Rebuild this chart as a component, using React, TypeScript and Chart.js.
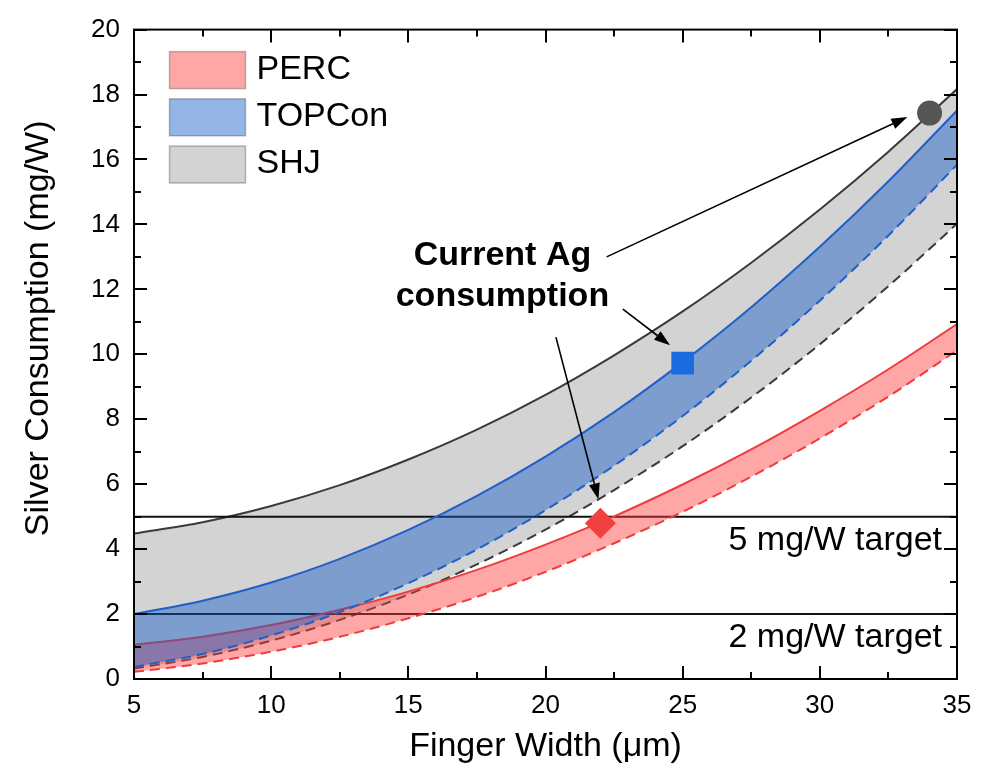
import React, { useEffect, useRef } from 'react';
import { Chart, registerables } from 'chart.js';

Chart.register(...registerables);

const FONT = '"Liberation Sans", Arial, Helvetica, sans-serif';

// Finger width (µm) sample positions
const fingerWidths = [5, 7.5, 10, 12.5, 15, 17.5, 20, 22.5, 25, 27.5, 30, 32.5, 35];

// Silver consumption (mg/W)
const shjUpper = [4.48, 4.83, 5.33, 5.97, 6.76, 7.68, 8.75, 9.97, 11.32, 12.82, 14.46, 16.24, 18.17];
const shjLower = [0.32, 0.68, 1.18, 1.82, 2.6, 3.53, 4.6, 5.82, 7.17, 8.67, 10.31, 12.1, 14.02];
const topconUpper = [2.0, 2.41, 2.97, 3.7, 4.59, 5.64, 6.85, 8.22, 9.76, 11.45, 13.31, 15.33, 17.51];
const topconLower = [0.37, 0.77, 1.34, 2.06, 2.95, 3.99, 5.2, 6.57, 8.1, 9.8, 11.65, 13.66, 15.84];
const percUpper = [1.05, 1.3, 1.66, 2.13, 2.69, 3.36, 4.14, 5.01, 5.99, 7.07, 8.26, 9.54, 10.93];
const percLower = [0.22, 0.48, 0.84, 1.3, 1.87, 2.53, 3.3, 4.18, 5.15, 6.23, 7.41, 8.7, 10.12];

// Current Ag consumption markers: PERC, TOPCon, SHJ
const markerWidths = [22, 25, 34];
const markerValues = [4.8, 9.73, 17.43];

// Target lines
const targetValues = [5, 2];
const targetLabels = ['5 mg/W target', '2 mg/W target'];

// Legend
const legendLabels = ['PERC', 'TOPCon', 'SHJ'];

// Annotation arrows (data coordinates): to SHJ, TOPCon, PERC markers
const arrowStartX = [22.23, 22.82, 20.38];
const arrowStartY = [13.0, 11.39, 10.53];
const arrowEndX = [33.19, 24.54, 21.93];
const arrowEndY = [17.31, 10.28, 5.53];
const annotationLines = ['Current Ag', 'consumption'];
const annotationX = 18.43;
const annotationY = [13.04, 11.77];

const COLORS = {
  shjLine: '#3a3a3a',
  shjFill: '#d3d3d3',
  percLine: '#f03c3c',
  percFill: 'rgba(255,60,60,0.45)',
  topLine: '#1f5fc8',
  topFill: 'rgba(20,90,200,0.45)',
};

const pts = (xs: number[], ys: number[]) => xs.map((x, i) => ({ x, y: ys[i] }));

export default function App() {
  const ref = useRef<HTMLCanvasElement>(null);

  useEffect(() => {
    const canvas = ref.current;
    if (!canvas) return;

    const overlay = {
      id: 'overlay',
      afterDraw(chart: any) {
        const { ctx, chartArea: a, scales } = chart;
        const xs = scales.x;
        const ys = scales.y;
        ctx.save();

        // frame
        ctx.strokeStyle = '#000';
        ctx.lineWidth = 2;
        ctx.strokeRect(a.left, a.top, a.right - a.left, a.bottom - a.top);

        // inward ticks on all sides
        ctx.beginPath();
        for (let v = 5; v <= 35.001; v += 2.5) {
          const px = Math.round(xs.getPixelForValue(v));
          const len = Math.abs(v % 5) < 1e-6 ? 13 : 7;
          ctx.moveTo(px, a.bottom);
          ctx.lineTo(px, a.bottom - len);
          ctx.moveTo(px, a.top);
          ctx.lineTo(px, a.top + len);
        }
        for (let v = 0; v <= 20.001; v += 1) {
          const py = Math.round(ys.getPixelForValue(v));
          const len = v % 2 === 0 ? 13 : 7;
          ctx.moveTo(a.left, py);
          ctx.lineTo(a.left + len, py);
          ctx.moveTo(a.right, py);
          ctx.lineTo(a.right - len, py);
        }
        ctx.stroke();

        // legend
        const legendFills = [COLORS.percFill, COLORS.topFill, COLORS.shjFill];
        legendLabels.forEach((lab, i) => {
          const bx = a.left + 35.5;
          const by = a.top + 22 + i * 47.2;
          ctx.fillStyle = '#fff';
          ctx.fillRect(bx, by, 76, 37);
          ctx.fillStyle = legendFills[i];
          ctx.fillRect(bx, by, 76, 37);
          ctx.strokeStyle = 'rgba(0,0,0,0.25)';
          ctx.lineWidth = 1.5;
          ctx.strokeRect(bx, by, 76, 37);
          ctx.fillStyle = '#000';
          ctx.font = `34px ${FONT}`;
          ctx.textAlign = 'left';
          ctx.textBaseline = 'middle';
          ctx.fillText(lab, bx + 87, by + 18);
        });

        // target labels
        ctx.font = `34px ${FONT}`;
        ctx.fillStyle = '#000';
        ctx.textAlign = 'right';
        ctx.textBaseline = 'middle';
        targetValues.forEach((t, i) => {
          ctx.fillText(targetLabels[i], a.right - 15, ys.getPixelForValue(t) + 23.5);
        });

        // annotation text
        ctx.font = `bold 34px ${FONT}`;
        ctx.textAlign = 'center';
        annotationLines.forEach((line, i) => {
          ctx.fillText(line, xs.getPixelForValue(annotationX), ys.getPixelForValue(annotationY[i]));
        });

        // arrows
        ctx.strokeStyle = '#000';
        ctx.fillStyle = '#000';
        ctx.lineWidth = 1.6;
        arrowStartX.forEach((sx, i) => {
          const x0 = xs.getPixelForValue(sx);
          const y0 = ys.getPixelForValue(arrowStartY[i]);
          const x1 = xs.getPixelForValue(arrowEndX[i]);
          const y1 = ys.getPixelForValue(arrowEndY[i]);
          const ang = Math.atan2(y1 - y0, x1 - x0);
          const hl = 16;
          const hw = 5.5;
          const bxp = x1 - hl * Math.cos(ang);
          const byp = y1 - hl * Math.sin(ang);
          ctx.beginPath();
          ctx.moveTo(x0, y0);
          ctx.lineTo(bxp, byp);
          ctx.stroke();
          ctx.beginPath();
          ctx.moveTo(x1, y1);
          ctx.lineTo(bxp + hw * Math.sin(ang), byp - hw * Math.cos(ang));
          ctx.lineTo(bxp - hw * Math.sin(ang), byp + hw * Math.cos(ang));
          ctx.closePath();
          ctx.fill();
        });

        // y axis title
        ctx.save();
        ctx.translate(38.5, (a.top + a.bottom) / 2 - 26);
        ctx.rotate(-Math.PI / 2);
        ctx.font = `34px ${FONT}`;
        ctx.textAlign = 'center';
        ctx.textBaseline = 'middle';
        ctx.fillStyle = '#000';
        ctx.fillText('Silver Consumption (mg/W)', 0, 0);
        ctx.restore();

        ctx.restore();
      },
    };

    const lineBase = {
      pointRadius: 0,
      borderWidth: 2,
      cubicInterpolationMode: 'monotone' as const,
    };

    const chart = new Chart(canvas, {
      type: 'line',
      data: {
        datasets: [
          {
            label: '5 mg/W',
            data: pts([5, 35], [targetValues[0], targetValues[0]]),
            borderColor: '#111',
            borderWidth: 2,
            pointRadius: 0,
            fill: false,
            order: 8,
          },
          {
            label: '2 mg/W',
            data: pts([5, 35], [targetValues[1], targetValues[1]]),
            borderColor: '#111',
            borderWidth: 2,
            pointRadius: 0,
            fill: false,
            order: 8,
          },
          {
            ...lineBase,
            label: 'SHJ',
            data: pts(fingerWidths, shjUpper),
            borderColor: COLORS.shjLine,
            backgroundColor: COLORS.shjFill,
            fill: '+1',
            order: 10,
          },
          {
            ...lineBase,
            label: 'SHJ lower',
            data: pts(fingerWidths, shjLower),
            borderColor: COLORS.shjLine,
            borderDash: [10, 6],
            fill: false,
            order: 9,
          },
          {
            ...lineBase,
            label: 'PERC',
            data: pts(fingerWidths, percUpper),
            borderColor: COLORS.percLine,
            backgroundColor: COLORS.percFill,
            fill: '+1',
            order: 7,
          },
          {
            ...lineBase,
            label: 'PERC lower',
            data: pts(fingerWidths, percLower),
            borderColor: COLORS.percLine,
            borderDash: [10, 6],
            fill: false,
            order: 6,
          },
          {
            ...lineBase,
            label: 'TOPCon',
            data: pts(fingerWidths, topconUpper),
            borderColor: COLORS.topLine,
            backgroundColor: COLORS.topFill,
            fill: '+1',
            order: 5,
          },
          {
            ...lineBase,
            label: 'TOPCon lower',
            data: pts(fingerWidths, topconLower),
            borderColor: COLORS.topLine,
            borderDash: [10, 6],
            fill: false,
            order: 4,
          },
          {
            label: 'SHJ current',
            data: [{ x: markerWidths[2], y: markerValues[2] }],
            showLine: false,
            pointStyle: 'circle',
            pointRadius: 12.5,
            pointBackgroundColor: '#555555',
            pointBorderWidth: 0,
            order: 0,
          },
          {
            label: 'TOPCon current',
            data: [{ x: markerWidths[1], y: markerValues[1] }],
            showLine: false,
            pointStyle: 'rect',
            pointRadius: 16,
            pointBackgroundColor: '#1a6be0',
            pointBorderWidth: 0,
            order: 0,
          },
          {
            label: 'PERC current',
            data: [{ x: markerWidths[0], y: markerValues[0] }],
            showLine: false,
            pointStyle: 'rectRot',
            pointRadius: 15.5,
            pointBackgroundColor: '#f04040',
            pointBorderWidth: 0,
            order: 0,
          },
        ] as any,
      },
      options: {
        animation: false,
        responsive: true,
        maintainAspectRatio: false,
        layout: { padding: { top: 20, right: 30, left: 0, bottom: 0 } },
        plugins: {
          legend: { display: false },
          tooltip: { enabled: false },
        },
        scales: {
          x: {
            type: 'linear',
            min: 5,
            max: 35,
            afterFit: (s: any) => {
              s.height = 98;
            },
            grid: { display: false, drawTicks: false },
            border: { display: false },
            ticks: {
              stepSize: 5,
              padding: 11,
              color: '#000',
              font: { family: FONT, size: 26 },
              maxRotation: 0,
            },
            title: {
              display: true,
              text: 'Finger Width (μm)',
              color: '#000',
              font: { family: FONT, size: 34 },
              padding: { top: 0, bottom: 10 },
            },
          },
          y: {
            type: 'linear',
            min: 0,
            max: 20,
            afterFit: (s: any) => {
              s.width = 134;
            },
            grid: { display: false, drawTicks: false },
            border: { display: false },
            ticks: {
              stepSize: 2,
              padding: 14,
              color: '#000',
              font: { family: FONT, size: 26 },
            },
          },
        },
      },
      plugins: [overlay],
    });

    return () => chart.destroy();
  }, []);

  return (
    <div
      style={{
        position: 'fixed',
        left: 0,
        top: 0,
        width: 987,
        height: 777,
        background: '#fff',
      }}
    >
      <canvas ref={ref} />
    </div>
  );
}
